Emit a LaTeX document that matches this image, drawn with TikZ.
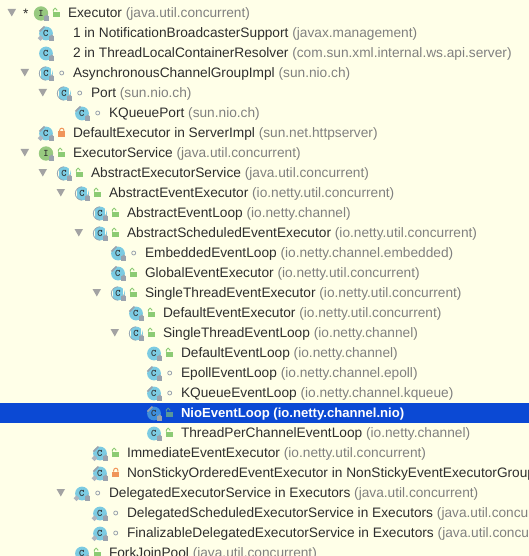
\documentclass[tikz,border=0pt]{standalone}
\usepackage{fontspec}
\setmainfont{Liberation Sans}
\definecolor{panelbg}{HTML}{FFFFE8}
\definecolor{rowselect}{HTML}{0B49D4}
\definecolor{treearrowgray}{HTML}{A3A3A3}
\definecolor{classblue}{HTML}{7CCBE2}
\definecolor{classblueselect}{HTML}{3F8FDC}
\definecolor{ifacegreen}{HTML}{97C97F}
\definecolor{lockgray}{HTML}{9AA3AE}
\definecolor{visgreen}{HTML}{8CCB74}
\definecolor{visorange}{HTML}{F0955A}
\definecolor{labeldark}{HTML}{2E2E2E}
\definecolor{pkggray}{HTML}{808080}
\tikzset{
  treelabel/.style={anchor=base west,inner sep=0pt,outer sep=0pt,font=\fontsize{13.7}{15}\selectfont},
  iconletter/.style={inner sep=0pt,text=labeldark,font=\fontsize{10}{10}\ttfamily\bfseries}
}
\begin{document}
\begin{tikzpicture}[x=1pt,y=-1pt]
        % text starts at #1, row centre at #2
        \newcommand{\treearrow}[2]{\fill[treearrowgray] (#1-52.5,#2-4) -- (#1-44,#2-4) -- (#1-48.2,#2+3.5) -- cycle;}
        \newcommand{\iconlock}[2]{%
          \fill[lockgray] (#1+3.2,#2+3.4) rectangle ++(5,4.2);
          \draw[lockgray,line width=0.7pt] (#1+4.2,#2+3.4) arc (180:360:1.5);}
        \newcommand{\plainicon}[2]{%
          \fill[classblue] (#1-27,#2+.5) circle (6.9);
          \node[iconletter] (c#2) at (#1-27.2,#2+.5) {C};
          \iconlock{#1-27}{#2}}
        \newcommand{\abstracticon}[2]{%
          \fill[classblue] (#1-27,#2+.5) circle (6.9);
          \draw[panelbg,line width=1pt] (#1-32.4,#2-5.5) -- (#1-32.4,#2+6.5);
          \draw[panelbg,line width=1pt] (#1-21.6,#2-5.5) -- (#1-21.6,#2+6.5);
          \draw[lockgray,line width=0.7pt] (#1-27,#2-6.2) arc (-90:-270:6.7);
          \node[iconletter] (c#2) at (#1-27,#2+.5) {C};
          \iconlock{#1-27}{#2}}
        \newcommand{\diamondmark}[2]{\fill[lockgray!80] (#1-32.5,#2+2.4) -- ++(2.8,2.8) -- ++(-2.8,2.8) -- ++(-2.8,-2.8) -- cycle;}
        \newcommand{\tagmark}[2]{\draw[lockgray,line width=1.6pt] (#1-33.5,#2-1.5) -- (#1-28.5,#2-6.5);}
        \newcommand{\ifaceicon}[2]{%
          \fill[ifacegreen] (#1-27,#2+.5) circle (7.2);
          \node[iconletter] (i#2) at (#1-27,#2+.5) {I};
          \iconlock{#1-27}{#2}}
        \newcommand{\openlock}[2]{%
          \fill[visgreen] (#1-14.8,#2-1.3) rectangle ++(6.8,5.6);
          \draw[visgreen,line width=0.9pt] (#1-14.6,#2-1.3) -- ++(0,-1.8) arc (180:360:1.7) -- ++(0,.8);}
        \newcommand{\closedlock}[2]{%
          \fill[visorange] (#1-14.6,#2-1.5) rectangle ++(6.8,5.8);
          \draw[visorange,line width=1pt] (#1-13.3,#2-1.5) -- ++(0,-1.2) arc (180:360:2.1) -- ++(0,1.2);}
        \newcommand{\packagemark}[2]{\draw[lockgray,line width=.8pt] (#1-11.3,#2) circle (2);}
        \newcommand{\treerow}[4]{\node[treelabel,text=labeldark] (t#2) at (#1,#2+4.5) {#3 \textcolor{pkggray}{(#4)}};}

        \clip (0,0) rectangle (529,556);
        \fill[panelbg] (0,0) rectangle (529,556);
        \fill[rowselect] (0,403) rectangle (529,423);

        % row 0
        \treearrow{60}{13}
        \node[treelabel,text=labeldark] (star) at (23,18.5) {*};
        \fill[ifacegreen] (41,13.5) circle (7.2);
        \node[iconletter] (i13) at (41,13.5) {I};
        \iconlock{41}{13}
        \openlock{68}{13}
        \treerow{68}{13}{Executor}{java.util.concurrent}

        \plainicon{73}{33}\tagmark{73}{33}\diamondmark{73}{33}
        \treerow{73}{33}{1 in NotificationBroadcasterSupport}{javax.management}
        \plainicon{73}{53}
        \treerow{73}{53}{2 in ThreadLocalContainerResolver}{com.sun.xml.internal.ws.api.server}
        \treearrow{73}{73}\abstracticon{73}{73}\packagemark{73}{73}
        \treerow{73}{73}{AsynchronousChannelGroupImpl}{sun.nio.ch}
        \treearrow{91}{93}\abstracticon{91}{93}\packagemark{91}{93}
        \treerow{91}{93}{Port}{sun.nio.ch}
        \plainicon{109}{113}\tagmark{109}{113}\packagemark{109}{113}
        \treerow{109}{113}{KQueuePort}{sun.nio.ch}
        \plainicon{73}{133}\tagmark{73}{133}\diamondmark{73}{133}\closedlock{73}{133}
        \treerow{73}{133}{DefaultExecutor in ServerImpl}{sun.net.httpserver}
        \treearrow{73}{153}\ifaceicon{73}{153}\openlock{73}{153}
        \treerow{73}{153}{ExecutorService}{java.util.concurrent}
        \treearrow{91}{173}\abstracticon{91}{173}\openlock{91}{173}
        \treerow{91}{173}{AbstractExecutorService}{java.util.concurrent}
        \treearrow{109}{193}\abstracticon{109}{193}\openlock{109}{193}
        \treerow{109}{193}{AbstractEventExecutor}{io.netty.util.concurrent}
        \abstracticon{127}{213}\openlock{127}{213}
        \treerow{127}{213}{AbstractEventLoop}{io.netty.channel}
        \treearrow{127}{233}\abstracticon{127}{233}\openlock{127}{233}
        \treerow{127}{233}{AbstractScheduledEventExecutor}{io.netty.util.concurrent}
        \plainicon{145}{253}\tagmark{145}{253}\packagemark{145}{253}
        \treerow{145}{253}{EmbeddedEventLoop}{io.netty.channel.embedded}
        \plainicon{145}{273}\tagmark{145}{273}\openlock{145}{273}
        \treerow{145}{273}{GlobalEventExecutor}{io.netty.util.concurrent}
        \treearrow{145}{293}\abstracticon{145}{293}\openlock{145}{293}
        \treerow{145}{293}{SingleThreadEventExecutor}{io.netty.util.concurrent}
        \plainicon{163}{313}\tagmark{163}{313}\openlock{163}{313}
        \treerow{163}{313}{DefaultEventExecutor}{io.netty.util.concurrent}
        \treearrow{163}{333}\abstracticon{163}{333}\openlock{163}{333}
        \treerow{163}{333}{SingleThreadEventLoop}{io.netty.channel}
        \plainicon{181}{353}\openlock{181}{353}
        \treerow{181}{353}{DefaultEventLoop}{io.netty.channel}
        \plainicon{181}{373}\tagmark{181}{373}\packagemark{181}{373}
        \treerow{181}{373}{EpollEventLoop}{io.netty.channel.epoll}
        \plainicon{181}{393}\tagmark{181}{393}\packagemark{181}{393}
        \treerow{181}{393}{KQueueEventLoop}{io.netty.channel.kqueue}

        % selected row
        \fill[classblueselect] (154,413.5) circle (6.9);
        \draw[lockgray,line width=1.6pt] (147.5,411.5) -- (152.5,406.5);
        \node[iconletter] (c413) at (153.8,413.5) {C};
        \iconlock{154}{413}
        \fill[visgreen!60!rowselect] (166.2,411.7) rectangle ++(6.8,5.6);
        \draw[visgreen!60!rowselect,line width=.9pt] (166.4,411.7) -- ++(0,-1.8) arc (180:360:1.7) -- ++(0,.8);
        \node[treelabel,text=white,font=\fontsize{13.1}{15}\selectfont\bfseries] (t413) at (181,417.5) {NioEventLoop (io.netty.channel.nio)};

        \plainicon{181}{433}\openlock{181}{433}
        \treerow{181}{433}{ThreadPerChannelEventLoop}{io.netty.channel}
        \plainicon{127}{453}\tagmark{127}{453}\diamondmark{127}{453}\openlock{127}{453}
        \treerow{127}{453}{ImmediateEventExecutor}{io.netty.util.concurrent}
        \plainicon{127}{473}\tagmark{127}{473}\diamondmark{127}{473}\closedlock{127}{473}
        \treerow{127}{473}{NonStickyOrderedEventExecutor in NonStickyEventExecutorGroup}{io.netty.util.concurrent}
        \treearrow{109}{493}\plainicon{109}{493}\diamondmark{109}{493}\packagemark{109}{493}
        \treerow{109}{493}{DelegatedExecutorService in Executors}{java.util.concurrent}
        \plainicon{127}{513}\diamondmark{127}{513}\packagemark{127}{513}
        \treerow{127}{513}{DelegatedScheduledExecutorService in Executors}{java.util.concurrent}
        \plainicon{127}{533}\diamondmark{127}{533}\packagemark{127}{533}
        \treerow{127}{533}{FinalizableDelegatedExecutorService in Executors}{java.util.concurrent}
        \plainicon{109}{553}\openlock{109}{553}
        \treerow{109}{553}{ForkJoinPool}{java.util.concurrent}
    \end{tikzpicture}
\end{document}
